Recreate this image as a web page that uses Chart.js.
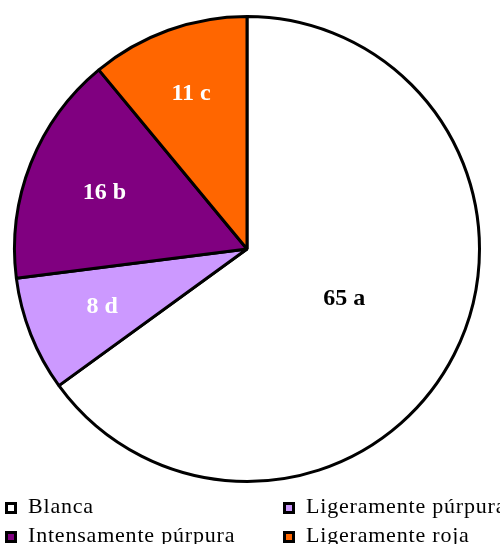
<!DOCTYPE html>
<html>
<head>
<meta charset="utf-8">
<script src="https://cdn.jsdelivr.net/npm/chart.js@4/dist/chart.umd.min.js"></script>
<style>
  html, body { margin: 0; padding: 0; background: #fff; }
  #wrap { width: 500px; height: 544px; position: relative; overflow: hidden; }
  #pie { display: block; }
</style>
</head>
<body>
<div id="wrap"><canvas id="pie" width="500" height="544"></canvas></div>
<script>
// categories and values
const categories = ['Blanca', 'Ligeramente púrpura', 'Intensamente púrpura', 'Ligeramente roja']
const values = [65, 8, 16, 11]
const letters = ['a', 'd', 'b', 'c']
const colors = ['#FFFFFF', '#CC99FF', '#800080', '#FF6600']
const labelColors = ['#000000', '#FFFFFF', '#FFFFFF', '#FFFFFF']

// how far out from the centre each value label sits (fraction of radius)
const labelDist = [0.47, 0.67, 0.66, 0.71]

const SERIF = '"Liberation Serif", "Times New Roman", serif'

// value labels inside the slices
const sliceLabels = {
  id: 'sliceLabels',
  afterDatasetsDraw(chart) {
    const ctx = chart.ctx
    const arcs = chart.getDatasetMeta(0).data
    ctx.save()
    ctx.font = 'bold 24px ' + SERIF
    ctx.textAlign = 'center'
    ctx.textBaseline = 'middle'
    arcs.forEach((arc, i) => {
      const mid = (arc.startAngle + arc.endAngle) / 2
      const r = arc.outerRadius * labelDist[i]
      ctx.fillStyle = labelColors[i]
      ctx.fillText(values[i] + ' ' + letters[i], arc.x + Math.cos(mid) * r, arc.y + Math.sin(mid) * r)
    })
    ctx.restore()
  }
}

// two-column legend under the pie, like the original
const legendBox = {
  id: 'legendBox',
  afterDraw(chart) {
    const ctx = chart.ctx
    const order = [0, 1, 2, 3]
    const colX = [5, 283]
    const rowY = [502, 531]
    ctx.save()
    ctx.font = '22px ' + SERIF
    ctx.letterSpacing = '0.8px'
    ctx.textBaseline = 'alphabetic'
    order.forEach((idx, k) => {
      const x = colX[k % 2]
      const y = rowY[Math.floor(k / 2)]
      ctx.fillStyle = '#000'
      ctx.fillRect(x, y, 12, 12)
      ctx.fillStyle = colors[idx]
      ctx.fillRect(x + 3, y + 3, 6, 6)
      ctx.fillStyle = '#000'
      ctx.fillText(categories[idx], x + 23, y + 11)
    })
    ctx.restore()
  }
}

new Chart(document.getElementById('pie'), {
  type: 'pie',
  data: {
    labels: categories,
    datasets: [{
      data: values,
      backgroundColor: colors,
      borderColor: '#000',
      borderWidth: 3
    }]
  },
  options: {
    responsive: false,
    animation: false,
    devicePixelRatio: 1,
    layout: { padding: { left: 13, top: 15, right: 19, bottom: 61 } },
    plugins: {
      legend: { display: false },
      tooltip: { enabled: false }
    }
  },
  plugins: [sliceLabels, legendBox]
})
</script>
</body>
</html>
